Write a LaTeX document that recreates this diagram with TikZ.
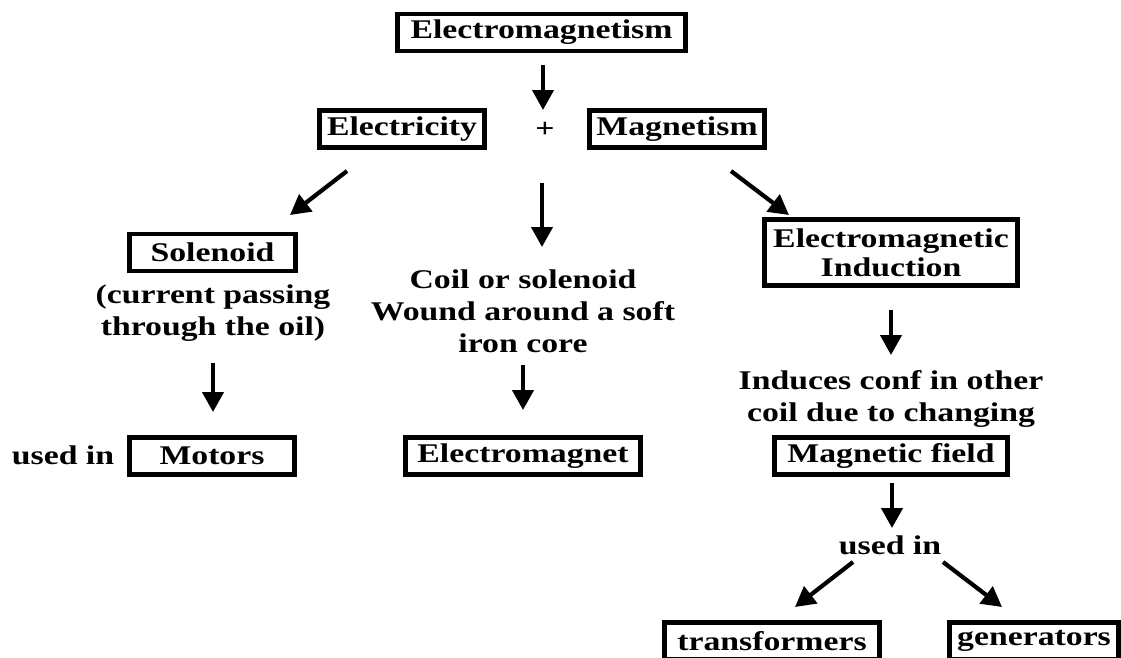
\documentclass[tikz,border=0pt]{standalone}
\usepackage{fontspec}
\setmainfont{Liberation Serif}[FakeStretch=1.25]
\usetikzlibrary{arrows.meta,positioning}

\begin{document}
\begin{tikzpicture}[x=1pt,y=-1pt,
  box/.style={draw,line width=4.5pt,inner sep=0pt,minimum height=37pt,align=center,font=\fontsize{27}{29}\selectfont\bfseries},
  txt/.style={inner sep=0pt,align=center,font=\fontsize{27}{32}\selectfont\bfseries},
  arrow/.style={line width=4.2pt,-{Triangle[length=20pt,width=21pt]}}]
\useasboundingbox (0,0) rectangle (1121,657);
\fill[white] (0,0) rectangle (1121,657);
\clip (0,0) rectangle (1121,657);

% top row
\node[box,minimum width=288pt] (emag) at (541.5,32.5) {Electromagnetism};
\node[box,minimum width=165pt] (elec) at (402,129) {Electricity};
\node[txt] (plus) at (545,130) {+};
\node[box,minimum width=175pt] (magn) at (677,129) {Magnetism};

% left column
\node[box,minimum width=166pt] (sol) at (212.5,252.5) {Solenoid};
\node[txt] (soltxt) at (213,313) {(current passing\\through the oil)};
\node[txt] (usedl) at (63,455) {used in};
\node[box,minimum width=165pt] (motors) at (212,456) {Motors};

% middle column
\node[txt] (coil) at (523,311) {Coil or solenoid\\Wound around a soft\\iron core};
\node[box,minimum width=235pt] (emgt) at (523,456) {Electromagnet};

% right column
\node[box,minimum width=253pt,minimum height=66pt] (emi) at (891,252.5) {Electromagnetic\\Induction};
\node[txt] (induce) at (891,399) {Induces conf in other\\coil due to changing};
\node[box,minimum width=233pt] (mfield) at (891,456) {Magnetic field};
\node[txt] (usedr) at (890,545) {used in};
\node[box,minimum width=215pt] (trans) at (772,641) {transformers};
\node[box,minimum width=169pt] (gen) at (1034,641) {generators};

% free arrow ends
\coordinate (emag-out) at (543,65);
\coordinate (plus-in) at (543,110);
\coordinate (elec-out) at (347,171);
\coordinate (sol-in) at (290,215);
\coordinate (mid-out) at (542,183);
\coordinate (coil-in) at (542,247);
\coordinate (magn-out) at (731,171);
\coordinate (emi-in) at (789,215);
\coordinate (soltxt-out) at (213,363);
\coordinate (motors-in) at (213,412);
\coordinate (coil-out) at (523,365);
\coordinate (emgt-in) at (523,410);
\coordinate (emi-out) at (891,310);
\coordinate (induce-in) at (891,355);
\coordinate (mfield-out) at (892,483);
\coordinate (usedr-in) at (892,528);
\coordinate (usedr-l) at (853,562);
\coordinate (trans-in) at (795,607);
\coordinate (usedr-r) at (943,562);
\coordinate (gen-in) at (1002,607);

\draw[arrow] (emag-out) -- (plus-in);
\draw[arrow] (elec-out) -- (sol-in);
\draw[arrow] (mid-out) -- (coil-in);
\draw[arrow] (magn-out) -- (emi-in);
\draw[arrow] (soltxt-out) -- (motors-in);
\draw[arrow] (coil-out) -- (emgt-in);
\draw[arrow] (emi-out) -- (induce-in);
\draw[arrow] (mfield-out) -- (usedr-in);
\draw[arrow] (usedr-l) -- (trans-in);
\draw[arrow] (usedr-r) -- (gen-in);
\end{tikzpicture}
\end{document}
